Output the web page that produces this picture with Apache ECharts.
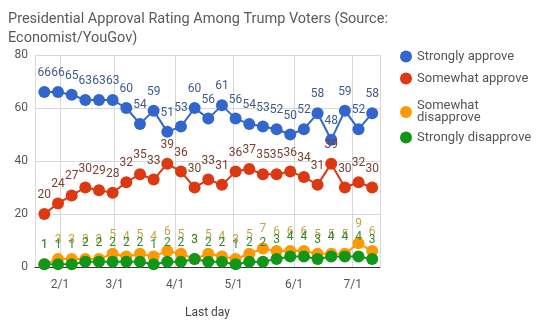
<!DOCTYPE html>
<html>
<head>
<meta charset="utf-8">
<script src="https://cdn.jsdelivr.net/npm/echarts@6/dist/echarts.min.js"></script>
<style>
html,body{margin:0;padding:0;background:#fff;}
#chart{width:550px;height:324px;}
</style>
</head>
<body>
<div id="chart"></div>
<script>
const titleText = 'Presidential Approval Rating Among Trump Voters (Source:\nEconomist/YouGov)';
const xAxisName = 'Last day';
const dates = ['2017-01-24','2017-01-31','2017-02-07','2017-02-14','2017-02-21','2017-02-28','2017-03-07','2017-03-14','2017-03-21','2017-03-28','2017-04-04','2017-04-11','2017-04-18','2017-04-25','2017-05-02','2017-05-09','2017-05-16','2017-05-23','2017-05-30','2017-06-06','2017-06-13','2017-06-20','2017-06-27','2017-07-04','2017-07-11'];
const seriesNames = ['Strongly approve','Somewhat approve','Somewhat disapprove','Strongly disapprove'];
const stronglyApprove = [66,66,65,63,63,63,60,54,59,51,53,60,56,61,56,54,53,52,50,52,58,48,59,52,58];
const somewhatApprove = [20,24,27,30,29,28,32,35,33,39,36,30,33,31,36,37,35,35,36,34,31,39,30,32,30];
const somewhatDisapprove = [1,3,3,3,3,5,4,5,4,6,5,3,5,4,3,5,7,6,6,6,5,5,5,9,6];
const stronglyDisapprove = [1,1,1,2,2,2,2,2,1,2,2,3,2,2,1,2,2,3,4,4,3,4,4,4,3];
const yTicks = {min:0, max:80, interval:20};
const xRange = {min:'2017-01-19 05:00', max:'2017-07-15'};

const colors = ['#3366cc','#dc3912','#ff9900','#109618'];
const labelColors = ['#40598c','#7a4032','#c9a23e','#2f8a34'];
const allValues = [stronglyApprove, somewhatApprove, somewhatDisapprove, stronglyDisapprove];

const chart = echarts.init(document.getElementById('chart'), null, {renderer:'canvas'});

const series = seriesNames.map((name, i) => ({
  name: name,
  type: 'line',
  data: dates.map((d, j) => [d, allValues[i][j]]),
  symbol: 'circle',
  symbolSize: 12,
  showAllSymbol: true,
  lineStyle: {width: 2, color: colors[i]},
  itemStyle: {color: colors[i]},
  label: {
    show: true,
    position: 'top',
    distance: 7,
    fontSize: 12,
    lineHeight: 12,
    fontFamily: 'Roboto',
    color: labelColors[i],
    formatter: p => p.value[1]
  },
  emphasis: {disabled: true},
  animation: false
}));

const legendTops = [50, 72, 94, 131];
const legends = seriesNames.map((name, i) => ({
  data: [name],
  orient: 'vertical',
  left: 400,
  top: legendTops[i],
  padding: 0,
  icon: 'circle',
  itemWidth: 12,
  itemHeight: 12,
  itemGap: 0,
  selectedMode: false,
  formatter: n => n === 'Somewhat disapprove' ? 'Somewhat\ndisapprove' : n,
  textStyle: {
    fontFamily: 'Roboto',
    fontSize: 13,
    lineHeight: 12,
    color: '#555',
    padding: i === 2 ? [12,0,0,0] : 0
  }
}));

chart.setOption({
  backgroundColor: '#fff',
  animation: false,
  color: colors,
  title: {
    text: titleText,
    left: 3,
    top: 5,
    textStyle: {fontFamily: 'Roboto', fontSize: 14.5, fontWeight: 'normal', color: '#5a5a5a', lineHeight: 19}
  },
  legend: legends,
  grid: {left: 35, right: 170, top: 55, bottom: 51, containLabel: false},
  xAxis: {
    type: 'time',
    min: xRange.min,
    max: xRange.max,
    minInterval: 27 * 86400000,
    name: xAxisName,
    nameLocation: 'middle',
    nameGap: 40,
    nameTextStyle: {fontFamily: 'Roboto', fontSize: 12, color: '#444'},
    axisLine: {show: true, lineStyle: {color: '#333', width: 1}},
    axisTick: {show: false},
    splitLine: {show: true, lineStyle: {color: '#d8d8d8', width: 1}},
    axisLabel: {
      fontFamily: 'Roboto',
      fontSize: 12,
      color: '#555',
      margin: 12,
      formatter: v => { const d = new Date(v); return (d.getMonth()+1) + '/' + d.getDate(); }
    }
  },
  yAxis: {
    type: 'value',
    min: yTicks.min,
    max: yTicks.max,
    interval: yTicks.interval,
    axisLine: {show: false},
    axisTick: {show: false},
    splitLine: {lineStyle: {color: '#d8d8d8', width: 1}},
    axisLabel: {fontFamily: 'Roboto', fontSize: 12, color: '#555', margin: 7}
  },
  series: series
});
</script>
</body>
</html>
